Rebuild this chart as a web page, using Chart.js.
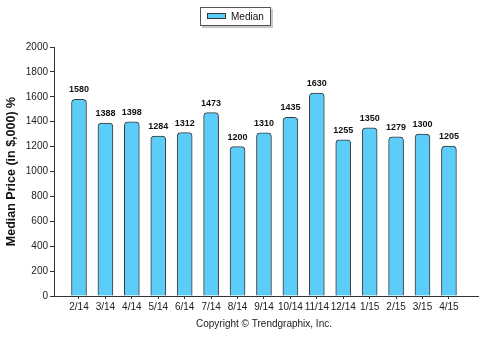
<!DOCTYPE html>
<html lang="en">
<head>
<meta charset="UTF-8">
<title>Median Price</title>
<script src="https://cdn.jsdelivr.net/npm/chart.js"></script>
<style>
    html, body { margin: 0; padding: 0; background: #fff; }
    #wrap { width: 481px; height: 337px; position: relative; }
</style>
</head>
<body>
<div id="wrap"><canvas id="myChart"></canvas></div>
<script>
    // data
    const months = ['2/14', '3/14', '4/14', '5/14', '6/14', '7/14', '8/14', '9/14', '10/14', '11/14', '12/14', '1/15', '2/15', '3/15', '4/15'];
    const medianPrice = [1580, 1388, 1398, 1284, 1312, 1473, 1200, 1310, 1435, 1630, 1255, 1350, 1279, 1300, 1205];
    const yTicks = [0, 200, 400, 600, 800, 1000, 1200, 1400, 1600, 1800, 2000];

    const barColor = '#5ccdf8';
    const edgeColor = '#3a3a3a';
    const tickFont = { family: '"Liberation Sans", Arial, sans-serif', size: 10 };

    // value labels above bars
    const valueLabels = {
        id: 'valueLabels',
        afterDatasetsDraw(chart) {
            const ctx = chart.ctx;
            const meta = chart.getDatasetMeta(0);
            ctx.save();
            ctx.font = 'bold 9px "Liberation Sans", Arial, sans-serif';
            ctx.fillStyle = '#111';
            ctx.textAlign = 'center';
            ctx.textBaseline = 'bottom';
            meta.data.forEach((bar, i) => {
                ctx.fillText(medianPrice[i], bar.x, bar.y - 5);
            });
            ctx.restore();
        }
    };

    // legend box at top + copyright line at bottom
    const extras = {
        id: 'extras',
        afterDraw(chart) {
            const ctx = chart.ctx;
            ctx.save();
            ctx.fillStyle = '#c8c8c8';
            ctx.fillRect(202, 9, 71, 19);
            ctx.fillStyle = '#fff';
            ctx.fillRect(200, 7, 71, 19);
            ctx.strokeStyle = '#555';
            ctx.lineWidth = 1;
            ctx.strokeRect(200.5, 7.5, 70, 18);
            ctx.fillStyle = barColor;
            ctx.fillRect(207, 13, 19, 6);
            ctx.strokeStyle = '#333';
            ctx.strokeRect(207.5, 13.5, 18, 5);
            ctx.fillStyle = '#111';
            ctx.font = '10px "Liberation Sans", Arial, sans-serif';
            ctx.textBaseline = 'middle';
            ctx.textAlign = 'left';
            ctx.fillText('Median', 231, 17);
            // copyright
            ctx.textAlign = 'center';
            ctx.fillStyle = '#222';
            ctx.fillText('Copyright \u00A9 Trendgraphix, Inc.', 264, 324);
            ctx.restore();
        }
    };

    const ctx = document.getElementById('myChart').getContext('2d');
    const myChart = new Chart(ctx, {
        type: 'bar',
        data: {
            datasets: [{
                label: 'Median',
                data: medianPrice.map((v, i) => ({ x: i, y: v })),
                backgroundColor: barColor,
                borderColor: edgeColor,
                borderWidth: 1,
                borderSkipped: 'bottom',
                borderRadius: { topLeft: 4, topRight: 4 },
                barThickness: 15
            }]
        },
        options: {
            responsive: true,
            maintainAspectRatio: false,
            animation: false,
            layout: { padding: { top: 47, right: 3, left: 0, bottom: 0 } },
            plugins: {
                legend: { display: false },
                tooltip: { enabled: false }
            },
            scales: {
                x: {
                    type: 'linear',
                    offset: false,
                    min: -0.946,
                    max: 15.1,
                    grid: { display: true, offset: false, drawOnChartArea: false, drawTicks: true, color: '#333', tickLength: 3 },
                    border: { display: true, color: '#333', width: 1 },
                    afterBuildTicks: axis => {
                        axis.ticks = months.map((m, i) => ({ value: i }));
                    },
                    afterFit: axis => { axis.height = 41; },
                    ticks: {
                        autoSkip: false,
                        maxRotation: 0,
                        padding: 2,
                        color: '#222',
                        font: tickFont,
                        callback: v => months[v]
                    }
                },
                y: {
                    min: 0,
                    max: 2000,
                    afterBuildTicks: axis => {
                        axis.ticks = yTicks.map(v => ({ value: v }));
                    },
                    afterFit: axis => { axis.width = 54; },
                    grid: { display: true, drawOnChartArea: false, drawTicks: true, tickLength: 4, color: '#333' },
                    border: { display: true, color: '#333', width: 1 },
                    ticks: {
                        padding: 2,
                        color: '#222',
                        font: tickFont,
                        callback: v => String(v)
                    },
                    title: {
                        display: true,
                        text: 'Median Price (in $,000) %',
                        color: '#111',
                        padding: { top: 4, bottom: 4 },
                        font: { family: '"Liberation Sans", Arial, sans-serif', size: 12.5, weight: 'bold' }
                    }
                }
            }
        },
        plugins: [valueLabels, extras]
    });
</script>
</body>
</html>
